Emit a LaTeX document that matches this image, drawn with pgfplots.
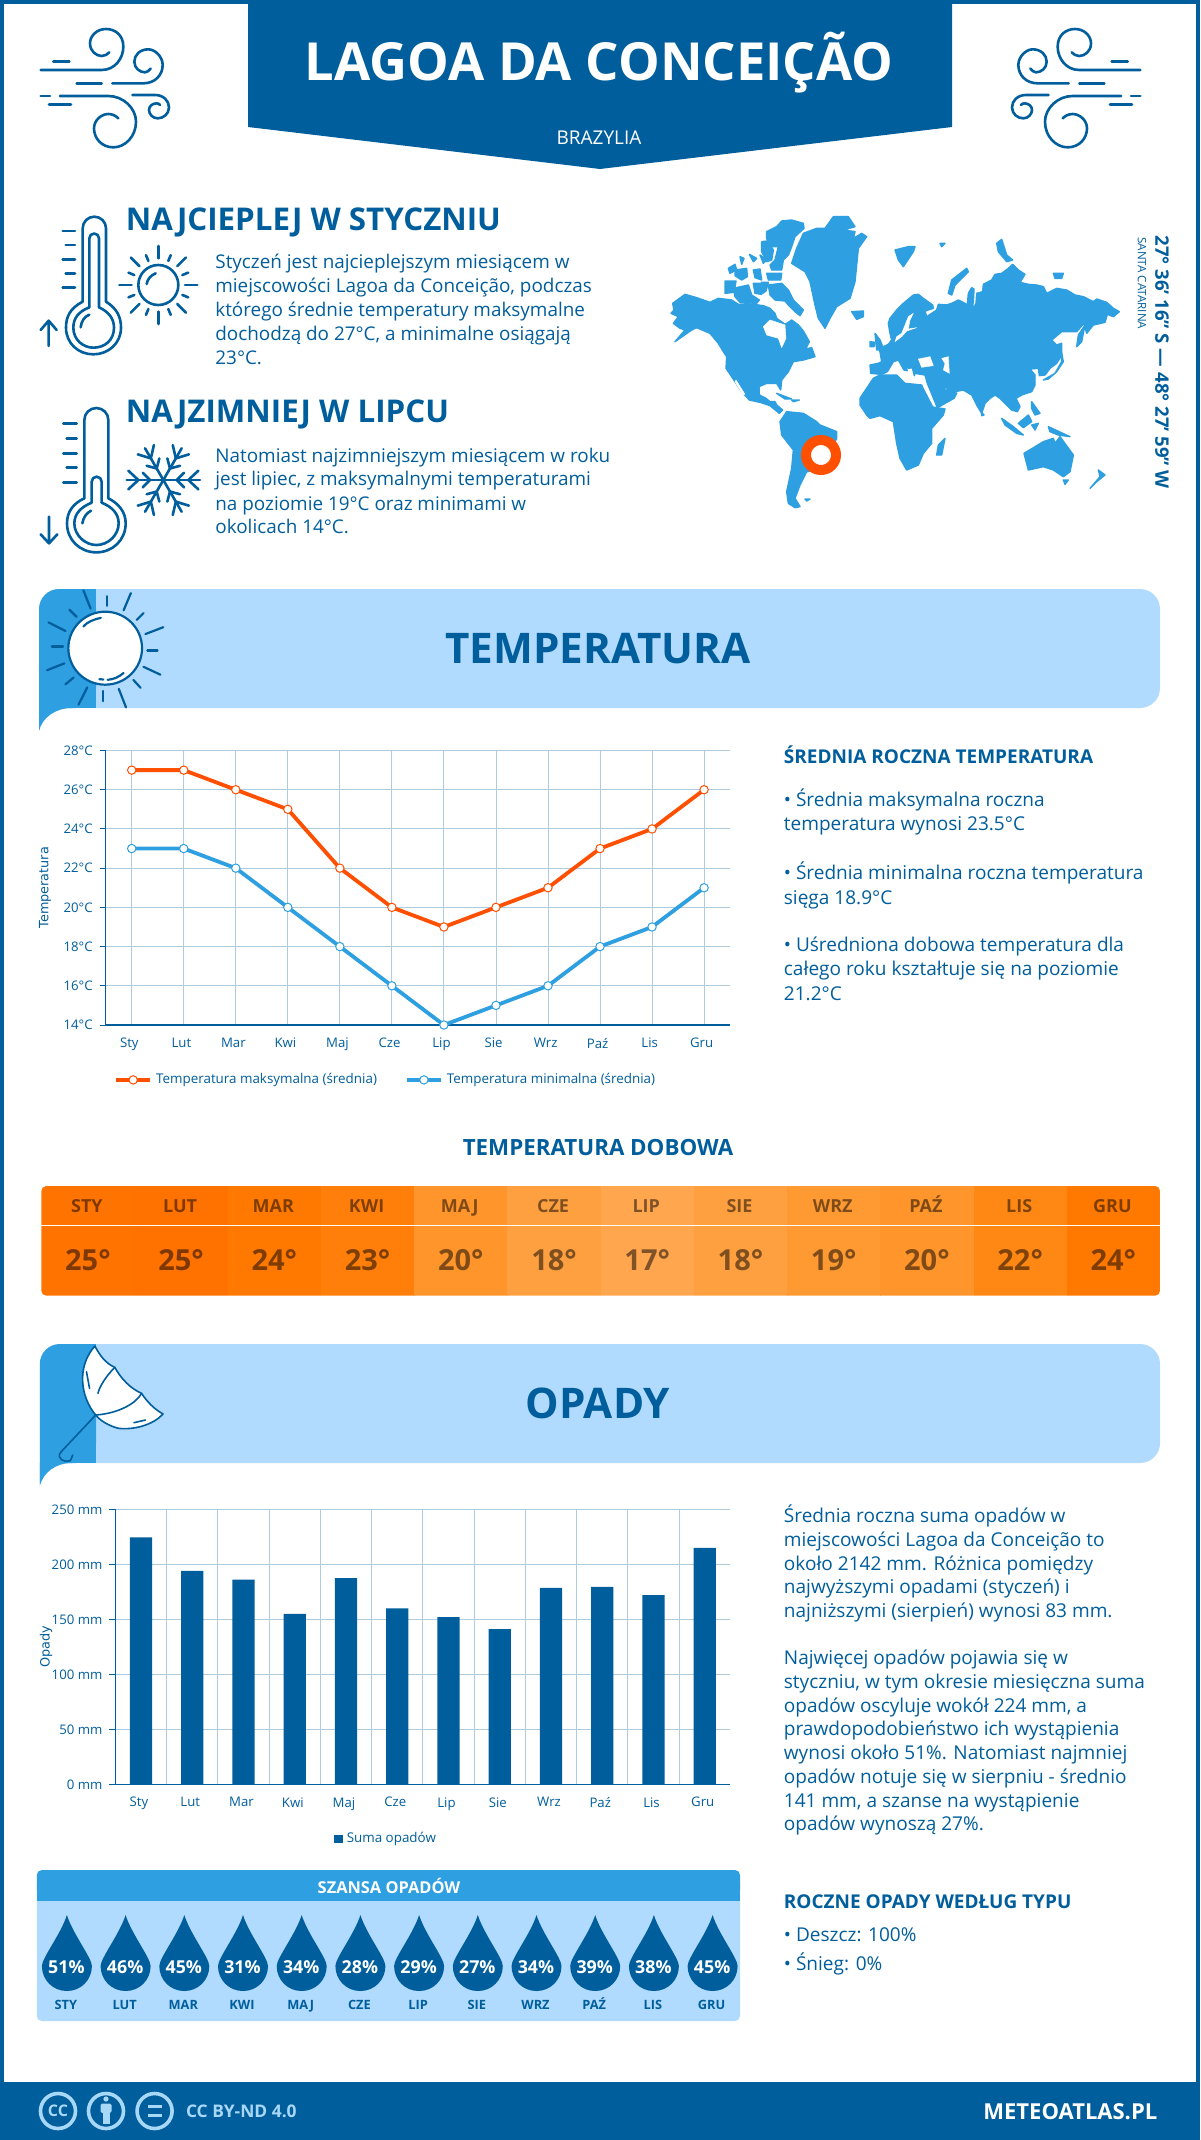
\documentclass[border=0pt]{standalone}
\usepackage{fontspec}
\usepackage{pgfplots}
\pgfplotsset{compat=1.18}
\setmainfont{Open Sans}
\newfontfamily\dejavu{DejaVu Sans}
\definecolor{mb}{HTML}{015E9C}
\definecolor{lb}{HTML}{B0DBFE}
\definecolor{cb}{HTML}{2E9FE0}
\definecolor{red1}{HTML}{FF4F00}
\definecolor{gridc}{HTML}{AECBDF}
\definecolor{foot}{HTML}{A8D8F8}
\newcommand{\fs}[1]{\fontsize{#1}{#1}\selectfont}
% text line at reference pixel position: size, x, baseline y, text
\newcommand{\T}[4]{\node[anchor=base west,inner sep=0pt,text=mb,font=\fs{#1}] at (#2,#3) {#4};}
\newcommand{\TB}[4]{\node[anchor=base west,inner sep=0pt,text=mb,font=\fs{#1}\bfseries] at (#2,#3) {#4};}
\newcommand{\windicon}{%
  \draw (62,180)--(245,180) .. controls (285,180) and (310,145) .. (310,110) .. controls (310,75) and (285,57) .. (258,57) .. controls (230,57) and (210,78) .. (210,100) .. controls (210,125) and (230,138) .. (245,138) .. controls (255,138) and (262,133) .. (268,127);
  \draw (100,155)--(148,155);
  \draw (170,220)--(245,220);
  \draw (277,220)--(370,220) .. controls (405,220) and (428,195) .. (428,165) .. controls (428,140) and (405,118) .. (385,118) .. controls (360,118) and (343,135) .. (343,155) .. controls (343,175) and (360,187) .. (375,187) .. controls (382,187) and (388,181) .. (392,176);
  \draw (62,258)--(90,258);
  \draw (120,258)--(265,258) .. controls (310,258) and (348,295) .. (348,335) .. controls (348,380) and (315,412) .. (280,412) .. controls (245,412) and (222,385) .. (222,355) .. controls (222,330) and (245,312) .. (265,312) .. controls (278,312) and (288,318) .. (295,325);
  \draw (87,283)--(153,283);
  \draw (337,255)--(405,255) .. controls (430,255) and (447,272) .. (447,292) .. controls (447,312) and (430,325) .. (413,325) .. controls (398,325) and (387,312) .. (387,300) .. controls (387,288) and (398,280) .. (410,280) .. controls (414,280) and (418,282) .. (420,285);
}
\tikzset{px/.style={x=0.5pt,y=-0.5pt},
  third/.style 2 args={shift={(#1*0.5pt,-#2*0.5pt)},x=0.16667pt,y=-0.16667pt},
  ic/.style={draw=mb,line width=1.3pt,line cap=round,line join=round},
  land/.style={fill=cb,every path/.style={draw=cb,line width=0.7pt,line join=round}},
  sea/.style={fill=white,draw=white,line width=0.2pt}}
\begin{document}
\begin{tikzpicture}
\useasboundingbox (0,0) rectangle (600pt,-1070pt);
\fill[white] (0,0) rectangle (600pt,-1070pt);
\begin{scope}[px]
% frame and header
\draw[mb,line width=2pt] (2,2) rectangle (1198,2138);
\fill[mb] (248,0)--(952,0)--(952,127)--(600,169)--(248,127)--cycle;
\node[text=white,font=\fs{26.25}\bfseries,inner sep=0pt,anchor=base] at (599,80.6) {LAGOA DA CONCEIÇÃO};
\node[text=white,font=\fs{9.5},inner sep=0pt,anchor=base] at (599,145) {BRAZYLIA};
\end{scope}
\begin{scope}[third={20}{10},ic]
\windicon
\end{scope}
\begin{scope}[shift={(580.5pt,-5pt)},x=-0.16667pt,y=-0.16667pt,ic]
\windicon
\end{scope}
% thermometers, sun, snowflake
\begin{scope}[third={20}{200},ic]
\draw (188,305)--(188,85) arc[start angle=180,end angle=360,radius=35]--(258,305);
\draw (188,305) .. controls (150,325) and (138,350) .. (138,383);
\draw (258,305) .. controls (290,325) and (303,350) .. (303,383) .. controls (303,430) and (265,463) .. (220,463) .. controls (175,463) and (138,430) .. (138,383);
\draw (208,322)--(208,115) arc[start angle=180,end angle=360,radius=14.5]--(237,322);
\draw (208,322) .. controls (175,335) and (160,355) .. (160,383) .. controls (160,420) and (190,443) .. (220,443) .. controls (255,443) and (282,420) .. (282,383) .. controls (282,355) and (265,335) .. (237,322);
\draw (182,382) .. controls (184,365) and (192,350) .. (208,344);
\foreach \y/\a in {93/128,135/137,178/128,220/137,263/128} \draw (\a,\y)--(165,\y);
\draw (86,438)--(86,362) (62,390)--(86,362)--(110,390);
% sun
\draw (415,255) circle[radius=60];
\draw (380,252) .. controls (382,238) and (392,226) .. (407,220);
\foreach \a in {0,45,...,315} \draw ({415+80*cos(\a)},{255+80*sin(\a)})--({415+117*cos(\a)},{255+117*sin(\a)});
\foreach \a in {22.5,67.5,...,337.5} \draw ({415+78*cos(\a)},{255+78*sin(\a)})--({415+97*cos(\a)},{255+97*sin(\a)});
% second thermometer
\draw (193,895)--(193,660) arc[start angle=180,end angle=360,radius=36]--(265,895);
\draw (193,895) .. controls (160,910) and (141,935) .. (141,970) .. controls (141,1020) and (180,1057) .. (229,1057) .. controls (278,1057) and (317,1020) .. (317,970) .. controls (317,935) and (295,910) .. (265,895);
\draw (215,908)--(215,845) arc[start angle=180,end angle=360,radius=15]--(245,908);
\draw (215,908) .. controls (185,920) and (163,940) .. (163,970) .. controls (163,1005) and (195,1035) .. (229,1035) .. controls (265,1035) and (296,1005) .. (296,970) .. controls (296,940) and (275,920) .. (245,908);
\draw (187,970) .. controls (190,953) and (198,940) .. (213,932);
\foreach \y/\a in {670/130,715/140,760/130,803/140,848/130} \draw (\a,\y)--(170,\y);
\draw (87,950)--(87,1030) (62,1003)--(87,1030)--(112,1003);
\foreach \a in {30,90,...,330} {
  \begin{scope}[shift={(430,840)},rotate=\a]
    \draw (0,0)--(0,110);
    \draw (-28,105)--(0,75)--(28,105);
    \draw (-22,62)--(0,40)--(22,62);
  \end{scope}
}
\end{scope}
\begin{scope}[px]
\TB{15.66}{125.5}{231}{NAJCIEPLEJ W STYCZNIU}
\T{9.44}{215}{269}{Styczeń jest najcieplejszym miesiącem w}
\T{9.44}{215}{292.5}{miejscowości Lagoa da Conceição, podczas}
\T{9.44}{215}{316.5}{którego średnie temperatury maksymalne}
\T{9.44}{215}{340.5}{dochodzą do 27°C, a minimalne osiągają}
\T{9.44}{215}{364.5}{23°C.}
\TB{15.66}{125.5}{422}{NAJZIMNIEJ W LIPCU}
\T{9.44}{215}{462}{Natomiast najzimniejszym miesiącem w roku}
\T{9.44}{215}{485.5}{jest lipiec, z maksymalnymi temperaturami}
\T{9.44}{215}{510}{na poziomie 19°C oraz minimami w}
\T{9.44}{215}{533.5}{okolicach 14°C.}
\node[rotate=-90,anchor=west,inner sep=0pt,text=mb,font=\fs{9.3}\bfseries] at (1162,235) {27° 36' 16'' S — 48° 27' 59'' W};
\node[rotate=-90,anchor=west,inner sep=0pt,text=mb,font=\fs{5.8}] at (1142,237) {SANTA CATARINA};
\end{scope}
% world map, west half
\begin{scope}[third={660}{205},land]
\fill (45,410)--(95,375)--(110,368)--(150,385)--(175,415)--(190,440)--(200,455)--(198,490)--(215,515)--(245,560)--(268,585)--(300,592)--(330,602)--(358,625)--(368,615)--(350,600)--(345,590)--(330,590)--(318,580)--(298,570)--(297,545)--(320,535)--(350,535)--(362,555)--(365,525)--(385,500)--(400,470)--(430,465)--(465,455)--(455,428)--(437,432)--(448,410)--(430,378)--(415,360)--(395,345)--(385,352)--(375,358)--(350,340)--(345,325)--(330,310)--(310,302)--(265,296)--(235,298)--(215,285)--(175,280)--(150,292)--(110,278)--(75,268)--(38,295)--(42,315)--(33,325)--(55,335)--(40,355)--(60,370)--(75,375)--cycle;
\fill[sea] (310,365)--(330,345)--(345,350)--(375,360)--(378,400)--(365,428)--(355,400)--(320,390)--cycle;
\fill[sea] (228,525)--(255,568)--(248,568)--(225,530)--cycle;
\fill (320,80)--(350,65)--(365,48)--(395,45)--(430,55)--(432,70)--(405,95)--(395,125)--(385,150)--(370,165)--(365,195)--(335,195)--(330,180)--(345,165)--(355,125)--(330,125)--(320,100)--cycle;
\fill (305,110)--(322,108)--(340,135)--(335,165)--(320,170)--(305,140)--cycle;
\fill (325,240)--(365,235)--(385,255)--(400,285)--(430,315)--(420,332)--(405,320)--(385,300)--(375,288)--(345,285)--(330,270)--cycle;
\fill (205,190)--(225,178)--(230,195)--(210,205)--cycle;
\fill (195,228)--(228,228)--(222,262)--(195,265)--cycle;
\fill (225,195)--(260,190)--(262,215)--(245,225)--(225,212)--cycle;
\fill (280,195)--(300,192)--(305,225)--(285,218)--cycle;
\fill (220,250)--(265,240)--(275,270)--(298,285)--(290,295)--(240,292)--(225,275)--cycle;
\fill (280,235)--(302,235)--(305,268)--(285,265)--cycle;
\fill (305,232)--(325,232)--(318,258)--(308,265)--cycle;
\fill (240,155)--(252,160)--(245,178)--cycle;
\fill (268,148)--(290,160)--(280,170)--cycle;
\fill (300,150)--(320,165)--(310,175)--cycle;
\fill (320,205)--(365,205)--(362,225)--(325,225)--cycle;
% Greenland, Iceland
\fill (395,175)--(410,130)--(430,85)--(470,70)--(495,70)--(520,35)--(565,35)--(585,65)--(550,75)--(585,80)--(580,100)--(605,85)--(620,95)--(595,130)--(590,180)--(585,230)--(570,280)--(530,305)--(510,340)--(495,370)--(475,340)--(465,300)--(450,230)--(435,200)--cycle;
\fill (575,320)--(610,318)--(610,335)--(590,343)--cycle;
% South America, Caribbean
\fill (360,650)--(380,620)--(430,625)--(470,650)--(480,660)--(530,680)--(530,700)--(505,750)--(480,795)--(440,800)--(420,840)--(405,880)--(420,905)--(405,908)--(385,895)--(380,860)--(395,790)--(400,735)--(365,690)--cycle;
\fill (350,565)--(395,582)--(375,582)--cycle;
\fill (395,585)--(418,585)--(400,590)--cycle;
\fill (435,882)--(450,882)--(440,888)--cycle;
\end{scope}
% world map, east half
\begin{scope}[third={880}{205},land]
% Africa
\fill (-60,580)--(-20,520)--(0,510)--(50,510)--(75,535)--(125,540)--(128,548)--(158,606)--(195,612)--(190,630)--(155,670)--(155,715)--(130,745)--(115,780)--(80,795)--(60,760)--(50,715)--(40,650)--(0,632)--(-30,640)--(-40,630)--(-60,600)--cycle;
% Eurasia with Scandinavia
\fill (-28,505)--(-30,480)--(-5,475)--(5,470)--(0,440)--(-5,432)--(25,418)--(35,405)--(30,385)--(25,355)--(30,340)--(50,315)--(70,295)--(100,270)--(115,268)--(130,280)--(158,300)--(160,310)--(135,318)--(140,335)--(155,325)--(170,315)--(175,298)--(200,300)--(215,295)--(235,285)--(255,295)--(262,300)--(265,265)--(275,248)--(282,252)--(280,290)--(275,318)--(288,295)--(290,265)--(308,260)--(310,238)--(335,225)--(345,208)--(365,205)--(385,190)--(398,178)--(415,195)--(435,208)--(420,232)--(445,238)--(470,240)--(490,245)--(500,265)--(530,250)--(560,255)--(585,270)--(610,275)--(640,290)--(650,282)--(680,292)--(700,310)--(718,320)--(700,335)--(682,328)--(675,352)--(640,360)--(620,385)--(612,355)--(590,380)--(545,380)--(515,405)--(530,420)--(545,415)--(545,450)--(530,475)--(510,490)--(495,510)--(478,512)--(475,490)--(450,492)--(465,510)--(465,540)--(455,560)--(425,570)--(408,580)--(420,605)--(412,620)--(395,615)--(375,595)--(360,580)--(345,570)--(330,580)--(315,595)--(305,625)--(290,600)--(275,570)--(250,555)--(225,560)--(205,555)--(190,540)--(195,555)--(230,565)--(222,580)--(172,608)--(142,535)--(135,510)--(105,505)--(103,512)--(97,488)--(85,490)--(65,465)--(82,497)--(72,495)--(55,465)--(40,470)--(22,500)--(5,508)--cycle;
\fill[sea] (45,410)--(65,395)--(80,378)--(110,368)--(85,372)--(90,345)--(100,325)--(85,335)--(75,360)--(65,385)--(50,395)--cycle;
\fill[sea] (115,462)--(150,455)--(160,482)--(125,487)--cycle;
\fill[sea] (185,460)--(205,455)--(208,505)--(190,495)--(195,475)--cycle;
\fill (-15,385)--(0,405)--(10,430)--(-10,435)--cycle;
\fill (-30,410)--(-15,412)--(-18,425)--(-30,425)--cycle;
\fill (45,135)--(85,125)--(105,125)--(100,140)--(70,185)--(55,165)--cycle;
\fill (205,265)--(215,225)--(260,190)--(265,200)--(225,240)--(215,270)--cycle;
\fill (180,115)--(195,115)--(185,125)--cycle;
\fill (350,115)--(365,103)--(380,150)--(398,165)--(380,170)--(355,140)--cycle;
\fill (520,205)--(550,205)--(545,220)--(525,220)--cycle;
\fill (590,425)--(595,390)--(615,360)--(605,410)--cycle;
\fill (490,525)--(525,505)--(545,470)--(540,420)--(550,470)--(530,500)--(505,522)--cycle;
\fill (170,750)--(175,720)--(195,700)--(185,750)--cycle;
\fill (305,622)--(312,630)--(305,632)--cycle;
\fill (365,640)--(400,665)--(430,690)--(410,685)--(375,660)--cycle;
\fill (415,655)--(445,630)--(455,650)--(430,668)--cycle;
\fill (455,590)--(480,625)--(465,630)--(455,610)--cycle;
\fill (505,665)--(570,695)--(535,690)--(510,680)--cycle;
\fill (455,660)--(475,655)--(465,675)--cycle;
\fill (432,745)--(490,710)--(520,700)--(525,715)--(540,695)--(580,750)--(570,800)--(550,815)--(520,795)--(490,785)--(445,795)--cycle;
\fill (550,825)--(565,825)--(555,838)--cycle;
\fill (630,850)--(650,830)--(675,810)--(655,795)--(660,815)--cycle;
\end{scope}
\begin{scope}[px]
\draw[red1,line width=5pt,fill=white] (821,455) circle[radius=15];
% temperature banner
\fill[lb,rounded corners=10pt] (60,589)--(1160,589)--(1160,708)--(60,708)--cycle;
\fill[cb,rounded corners=10pt] (39,740)--(39,589)--(96,589)--(96,708)--(39,708)--cycle;
\fill[cb] (70,589) rectangle (96,708);
\fill[white] (39,731) .. controls (42,718) and (55,708) .. (72,708)--(39,708)--(39,745)--(34,745)--(34,731)--cycle;
\fill[cb] (39,708)--(39,731) .. controls (42,718) and (55,708) .. (72,708)--cycle;
\node[text=mb,font=\fs{21.1}\bfseries,inner sep=0pt,anchor=base] at (598,663) {TEMPERATURA};
\end{scope}
\begin{scope}[shift={(0pt,-290pt)},x=0.24237pt,y=-0.17218pt,draw=mb,line width=1.1pt,line cap=round]
\foreach \a/\b/\c/\d in {172/30/187/83,220/47/220/75,270/38/255/88,296/96/282/116,337/137/300/157,325/205/304/205,331/275/296/252,290/313/275/290,245/316/260/370,212/322/212/352,162/362/180/312,135/303/152/283,97/262/133/242,107/193/130/193,100/123/135/148,143/86/158/107}
  \draw (\a,\b)--(\c,\d);
\draw[fill=white] (217,198) ellipse[x radius=76,y radius=106];
\draw (172,135) .. controls (180,122) and (192,115) .. (208,110);
\draw (222,290) .. controls (235,288) and (245,282) .. (255,270);
\draw (205,288)--(213,289);
\end{scope}
% chart side text
\begin{scope}[px]
\TB{9.5}{783.5}{763}{ŚREDNIA ROCZNA TEMPERATURA}
\T{9.52}{783.5}{806}{• Średnia maksymalna roczna}
\T{9.52}{783.5}{830.5}{temperatura wynosi 23.5°C}
\T{9.52}{783.5}{879.5}{• Średnia minimalna roczna temperatura}
\T{9.52}{783.5}{904}{sięga 18.9°C}
\T{9.52}{783.5}{951}{• Uśredniona dobowa temperatura dla}
\T{9.52}{783.5}{975}{całego roku kształtuje się na poziomie}
\T{9.52}{783.5}{1000}{21.2°C}
\node[text=mb,font=\fs{11.17}\bfseries,inner sep=0pt,anchor=base] at (598,1155) {TEMPERATURA DOBOWA};
% daily temperature strip
\begin{scope}
\clip[rounded corners=2.5pt] (41.3,1186) rectangle (1160,1295.7);
\foreach \i/\c/\m/\v in {0/FF7400/STY/25,1/FF7200/LUT/25,2/FF7900/MAR/24,3/FF7F0A/KWI/23,4/FF952B/MAJ/20,5/FFA040/CZE/18,6/FFA64F/LIP/17,7/FFA040/SIE/18,8/FF9A33/WRZ/19,9/FF952B/PAŹ/20,10/FF8814/LIS/22,11/FF7900/GRU/24} {
  \definecolor{cellc}{HTML}{\c}
  \fill[cellc] ({41.3+93.225*\i},1186) rectangle ({41.3+93.225*(\i+1)+0.5},1295.7);
  \node[text=black,text opacity=0.5,font=\fs{9}\bfseries,inner sep=0pt,anchor=base] at ({87.9+93.225*\i-1},1212) {\m};
  \node[text=black,text opacity=0.5,font=\fs{14.5}\bfseries,inner sep=0pt,anchor=base] at ({87.9+93.225*\i},1270.5) {\v°};
}
\end{scope}
\draw[white,line width=0.8pt] (41.3,1225.3)--(1160,1225.3);
% precipitation banner
\fill[lb,rounded corners=10pt] (60,1344)--(1160,1344)--(1160,1463)--(60,1463)--cycle;
\fill[cb,rounded corners=10pt] (39.8,1495)--(39.8,1344)--(96,1344)--(96,1463)--(39.8,1463)--cycle;
\fill[cb] (70,1344) rectangle (96,1463);
\fill[white] (39.8,1486) .. controls (43,1473) and (55,1463) .. (72,1463)--(39.8,1463)--(39.8,1500)--(34,1500)--(34,1486)--cycle;
\fill[cb] (39.8,1463)--(39.8,1486) .. controls (43,1473) and (55,1463) .. (72,1463)--cycle;
\node[text=mb,font=\fs{21.1}\bfseries,inner sep=0pt,anchor=base] at (598,1418) {OPADY};
\end{scope}
% umbrella
\begin{scope}[shift={(0pt,-560pt)},x=0.38265pt,y=-0.16667pt,draw=mb,line width=0.8pt,line cap=round,line join=round]
\draw[fill=white] (124,678) .. controls (130,705) and (138,730) .. (150,742) .. controls (158,775) and (170,805) .. (185,820) .. controls (192,845) and (202,868) .. (213,882) .. controls (200,915) and (175,930) .. (155,925) .. controls (142,918) and (130,900) .. (125,885) .. controls (105,830) and (100,740) .. (124,678)--cycle;
\draw (150,742) .. controls (138,770) and (130,800) .. (128,820);
\draw (185,820) .. controls (178,850) and (155,880) .. (125,885);
\draw (125,885)--(80,995) .. controls (72,1015) and (85,1030) .. (92,1022)--(95,1005);
\draw (113,755)--(117,805);
\draw (175,908)--(190,900);
\end{scope}
% temperature chart
\begin{axis}[
  name=tempaxis,
  at={(52.85pt,-512.5pt)},anchor=south west,
  scale only axis,width=312.2pt,height=137.25pt,
  xmin=-0.5,xmax=11.5,ymin=14,ymax=28,
  axis lines=left,axis line style={-,mb,line width=0.6pt},
  xtick={0,...,11},
  xticklabels={Sty,Lut,Mar,Kwi,Maj,Cze,Lip,Sie,Wrz,Paź,Lis,Gru},
  ytick={14,16,18,20,22,24,26,28},
  yticklabels={14°C,16°C,18°C,20°C,22°C,24°C,26°C,28°C},
  grid=major,grid style={gridc,line width=0.45pt},
  xtick style={draw=none},ytick style={mb,line width=0.5pt},
  tick align=outside,major tick length=3pt,
  tick label style={text=mb,font=\fs{6.6}},
  xticklabel style={xshift=-1.2pt},
  every axis y label/.style={at={(rel axis cs:0,0.5)},xshift=-30.3pt,rotate=90,anchor=center},
  ylabel={\dejavu Temperatura},
  label style={text=mb,font=\fs{6.4}},
  legend style={at={(0.013,-0.2)},anchor=west,draw=none,fill=none,inner sep=0pt,
    legend columns=2,text=mb,font=\fs{6.7},
    /tikz/every even column/.append style={column sep=12pt}},
  legend cell align=left,
  clip=false,
]
\addplot[red1,line width=1.9pt,mark=*,mark size=2.1pt,mark options={fill=white,line width=0.5pt}]
  coordinates {(0,27)(1,27)(2,26)(3,25)(4,22)(5,20)(6,19)(7,20)(8,21)(9,23)(10,24)(11,26)};
\addlegendentry{Temperatura maksymalna (średnia)}
\addplot[cb,line width=1.9pt,mark=*,mark size=2.1pt,mark options={fill=white,line width=0.5pt}]
  coordinates {(0,23)(1,23)(2,22)(3,20)(4,18)(5,16)(6,14)(7,15)(8,16)(9,18)(10,19)(11,21)};
\addlegendentry{Temperatura minimalna (średnia)}
\end{axis}
% precipitation chart
\begin{axis}[
  name=rainaxis,
  at={(57.7pt,-892.15pt)},anchor=south west,
  scale only axis,width=307.5pt,height=137.5pt,
  xmin=-0.5,xmax=11.5,ymin=0,ymax=250,
  axis lines=left,axis line style={-,mb,line width=0.6pt},
  xtick={0,...,11},
  xticklabels={Sty,Lut,Mar,Kwi,Maj,Cze,Lip,Sie,Wrz,Paź,Lis,Gru},
  minor xtick={0.5,1.5,...,10.5},
  ytick={0,50,100,150,200,250},
  yticklabels={0 mm,50 mm,100 mm,150 mm,200 mm,250 mm},
  xmajorgrids=false,xminorgrids=true,ymajorgrids=true,
  grid style={gridc,line width=0.45pt},
  minor grid style={gridc,line width=0.45pt},
  xtick style={draw=none},minor tick length=0pt,ytick style={mb,line width=0.5pt},
  tick align=outside,major tick length=3pt,
  tick label style={text=mb,font=\fs{6.6}},
  xticklabel style={xshift=-1pt},
  every axis y label/.style={at={(rel axis cs:0,0.5)},xshift=-34.7pt,rotate=90,anchor=center},
  ylabel={\dejavu Opady},
  label style={text=mb,font=\fs{6.4}},
  legend style={at={(0.4417,-0.198)},anchor=center,draw=none,fill=none,inner sep=0pt,
    text=mb,font=\fs{6.7}},
]
\addplot[ybar,bar width=11.15pt,fill=mb,draw=none,
  legend image code/.code={\fill[mb] (0pt,-2.1pt) rectangle (4.3pt,2.1pt);}]
  coordinates {(0,224.5)(1,194)(2,186)(3,155)(4,187.5)(5,160)(6,152)(7,141)(8,178.5)(9,179.5)(10,172)(11,215)};
\addlegendentry{Suma opadów}
\end{axis}
\begin{scope}[px]
% rain chance box
\fill[lb,rounded corners=2.5pt] (36.8,1880) rectangle (740,2021);
\fill[cb,rounded corners=2.5pt] (36.8,1870) rectangle (740,1895);
\fill[cb] (36.8,1885) rectangle (740,1901);
\node[text=white,font=\fs{8.2}\bfseries,inner sep=0pt,anchor=base] at (389,1893) {SZANSA OPADÓW};
\foreach \i/\p/\m in {0/51/STY,1/46/LUT,2/45/MAR,3/31/KWI,4/34/MAJ,5/28/CZE,6/29/LIP,7/27/SIE,8/34/WRZ,9/39/PAŹ,10/38/LIS,11/45/GRU} {
  \pgfmathsetmacro{\cx}{66.9+58.7*\i}
  \fill[mb] (\cx,1915) .. controls ({\cx+6},1934) and ({\cx+25},1958) .. ({\cx+25},1966) .. controls ({\cx+25},1980) and ({\cx+14},1991) .. (\cx,1991) .. controls ({\cx-14},1991) and ({\cx-25},1980) .. ({\cx-25},1966) .. controls ({\cx-25},1958) and ({\cx-6},1934) .. (\cx,1915)--cycle;
  \node[text=white,font=\fs{8.9}\bfseries,inner sep=0pt,anchor=base] at ({\cx-0.5},1973) {\p\%};
  \node[text=mb,font=\fs{6.4}\bfseries,inner sep=0pt,anchor=base] at ({\cx-1},2009.2) {\m};
}
% precipitation text
\T{9.52}{783.5}{1522}{Średnia roczna suma opadów w}
\T{9.52}{783.5}{1546}{miejscowości Lagoa da Conceição to}
\T{9.52}{783.5}{1570}{około 2142 mm. Różnica pomiędzy}
\T{9.52}{783.5}{1593.6}{najwyższymi opadami (styczeń) i}
\T{9.52}{783.5}{1617.6}{najniższymi (sierpień) wynosi 83 mm.}
\T{9.52}{783.5}{1664}{Najwięcej opadów pojawia się w}
\T{9.52}{783.5}{1688}{styczniu, w tym okresie miesięczna suma}
\T{9.52}{783.5}{1712}{opadów oscyluje wokół 224 mm, a}
\T{9.52}{783.5}{1735.5}{prawdopodobieństwo ich wystąpienia}
\T{9.52}{783.5}{1759.5}{wynosi około 51\%. Natomiast najmniej}
\T{9.52}{783.5}{1783}{opadów notuje się w sierpniu - średnio}
\T{9.52}{783.5}{1807}{141 mm, a szanse na wystąpienie}
\T{9.52}{783.5}{1830.6}{opadów wynoszą 27\%.}
\TB{9.5}{783.5}{1908.5}{ROCZNE OPADY WEDŁUG TYPU}
\T{9.52}{783.5}{1941.7}{• Deszcz: 100\%}
\T{9.52}{783.5}{1970}{• Śnieg: 0\%}
% footer
\fill[mb] (0,2082) rectangle (1200,2140);
\foreach \x in {58,106,154.6} \draw[foot,line width=1.8pt] (\x,2111) circle[radius=17.5];
\node[text=foot,font=\fs{8}\bfseries,inner sep=0pt] at (58,2111) {CC};
\fill[foot] (106,2099) circle[radius=2.6];
\fill[foot,rounded corners=0.8pt] (100.5,2103.5) rectangle (111.5,2113);
\fill[foot] (102.5,2112) rectangle (109.5,2124);
\fill[foot] (147.5,2104.5) rectangle (161.5,2108);
\fill[foot] (147.5,2113.5) rectangle (161.5,2117);
\node[text=foot,font=\fs{8.7}\bfseries,inner sep=0pt,anchor=base west] at (185.6,2117) {CC BY-ND 4.0};
\node[text=white,font=\fs{11}\bfseries,inner sep=0pt,anchor=base west] at (983,2119) {METEOATLAS.PL};
\end{scope}
\end{tikzpicture}
\end{document}
